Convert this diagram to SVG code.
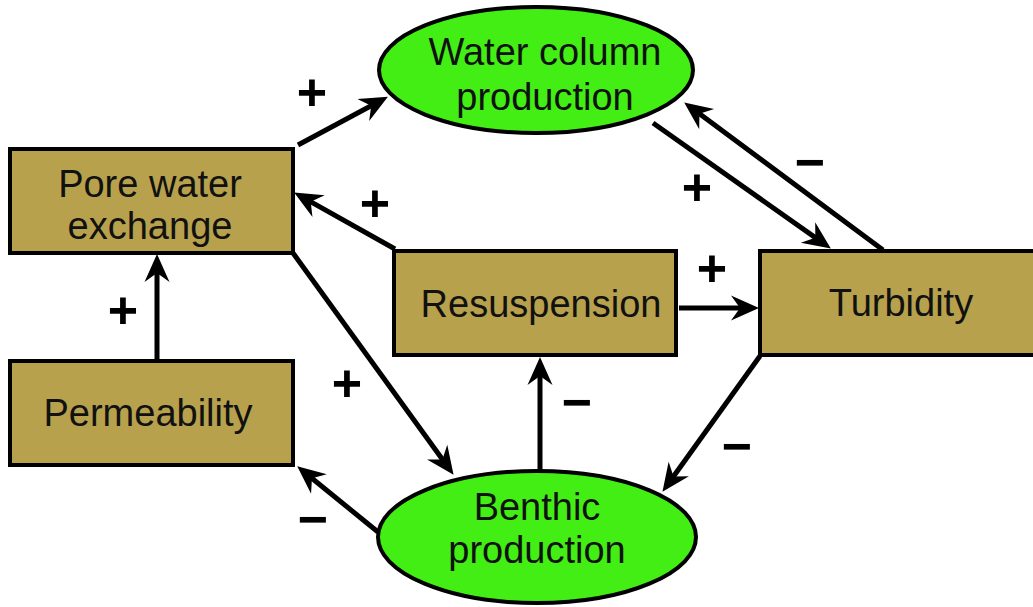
<svg xmlns="http://www.w3.org/2000/svg" width="1033" height="607" viewBox="0 0 1033 607">
<style>
.box{fill:#b8a14c;stroke:#000;stroke-width:4}
.ell{fill:#42ee14;stroke:#000;stroke-width:4}
.lbl{font-family:"Liberation Sans",Arial,sans-serif;font-size:38px;fill:#111;text-anchor:middle}
.sign{font-family:"Liberation Sans",Arial,sans-serif;font-size:52px;font-weight:bold;fill:#000;text-anchor:middle}
.edge{stroke:#000;stroke-width:5;fill:none;marker-end:url(#arr)}
</style>
<defs>
<marker id="arr" markerUnits="userSpaceOnUse" markerWidth="32" markerHeight="28" viewBox="0 -14 32 28" refX="19" refY="0" orient="auto">
<path d="M28,0 L0,-12.5 L9,0 L0,12.5 Z" fill="#000"/>
</marker>
</defs>
<rect width="1033" height="607" fill="#fff"/>
<g id="water-column">
<ellipse class="ell" cx="536" cy="70" rx="157" ry="63"/>
<text class="lbl" x="545" y="65">Water column</text>
<text class="lbl" x="545" y="110">production</text>
</g>
<g id="pore-water">
<rect class="box" x="10" y="149" width="283" height="104"/>
<text class="lbl" x="150" y="197">Pore water</text>
<text class="lbl" x="150" y="239">exchange</text>
</g>
<g id="resuspension">
<rect class="box" x="394" y="251" width="282" height="104"/>
<text class="lbl" x="541" y="317">Resuspension</text>
</g>
<g id="turbidity">
<rect class="box" x="760" y="251" width="285" height="104"/>
<text class="lbl" x="901" y="316">Turbidity</text>
</g>
<g id="permeability">
<rect class="box" x="10" y="361" width="283" height="104"/>
<text class="lbl" x="148" y="426">Permeability</text>
</g>
<g id="benthic">
<ellipse class="ell" cx="537" cy="537" rx="159" ry="66"/>
<text class="lbl" x="537" y="520">Benthic</text>
<text class="lbl" x="537" y="563">production</text>
</g>
<g id="connectors">
<line class="edge" x1="298" y1="145" x2="380" y2="101"/>
<line class="edge" x1="653" y1="123" x2="823.5" y2="243.4"/>
<line class="edge" x1="883" y1="250" x2="691.4" y2="107.8"/>
<line class="edge" x1="679" y1="308" x2="750" y2="308"/>
<line class="edge" x1="395" y1="249" x2="302" y2="196.9"/>
<line class="edge" x1="157" y1="360" x2="157" y2="263"/>
<line class="edge" x1="293" y1="253" x2="448.3" y2="467.5"/>
<line class="edge" x1="378" y1="532" x2="304.2" y2="472"/>
<line class="edge" x1="540" y1="470" x2="540" y2="366"/>
<line class="edge" x1="760" y1="356" x2="667.7" y2="484.5"/>
<text class="sign" x="312" y="110">+</text>
<text class="sign" x="697" y="205">+</text>
<text class="sign" x="810" y="180">−</text>
<text class="sign" x="712" y="286">+</text>
<text class="sign" x="375" y="221">+</text>
<text class="sign" x="123" y="328">+</text>
<text class="sign" x="347" y="401">+</text>
<text class="sign" x="577" y="420">−</text>
<text class="sign" x="737" y="464">−</text>
<text class="sign" x="313" y="537">−</text>
</g>
</svg>
